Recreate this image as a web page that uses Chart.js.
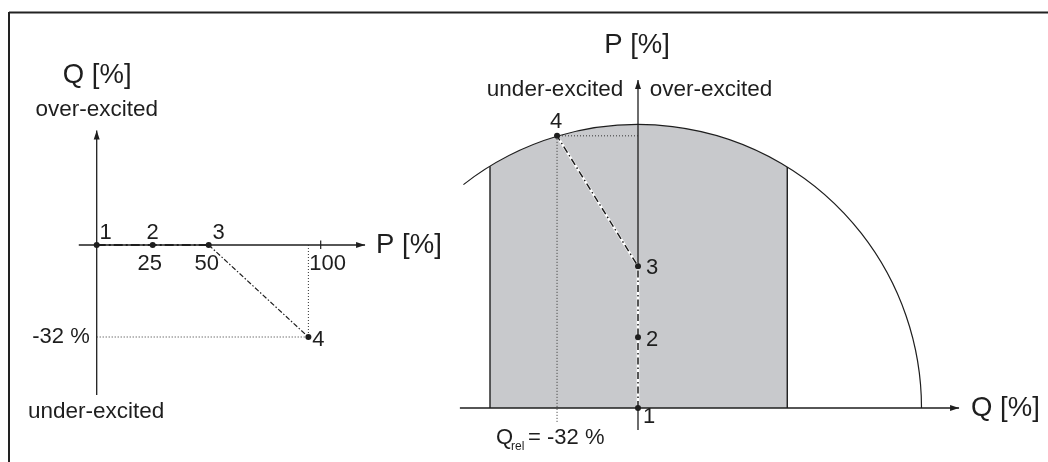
<!DOCTYPE html>
<html><head><meta charset="utf-8">
<script src="https://cdn.jsdelivr.net/npm/chart.js@4.4.1/dist/chart.umd.min.js"></script>
<style>
html,body{margin:0;padding:0;background:#fff;}
#wrap{position:relative;width:1048px;height:462px;overflow:hidden;background:#fff;}
canvas{position:absolute;left:0;top:0;}
</style></head><body>
<div id="wrap"><canvas id="left" width="1048" height="462"></canvas><canvas id="right" width="1048" height="462"></canvas></div>
<script>
// ===== DATA: left diagram (P horizontal, Q vertical) =====
const leftPointIds = ['1', '2', '3', '4'];
const leftP = [0, 25, 50, 94.5];
const leftQ = [0, 0, 0, -32];
const leftTickValues = [25, 50, 100];
const leftTickLabels = ['25', '50', '100'];
const leftQMarkLabel = '-32 %';

// ===== DATA: right diagram (Q horizontal, P vertical) =====
const rightPointIds = ['1', '2', '3', '4'];
const rightQ = [0, 0, 0, -32];
const rightP = [0, 25, 50, 96];
const capabilityRadiusP = 100;      // limit circle, in P units
const shadedQRange = [-58.5, 59];   // shaded operating band (Q)
const arcStartQ = -69;              // where the drawn arc begins on the left
const qRelLabel = ['Q', 'rel', '= -32 %'];

// ===== LAYOUT (pixel origin and pixels per unit, axis extents in data units) =====
const W = 1048, H = 462;
const LL = {ox: 96.7, oy: 245, sx: 2.24, sy: 2.875, xAxis: [-8, 119.8], yAxis: [-52.2, 39.8]};
const RL = {ox: 638, oy: 408, sx: 2.53, sy: 2.835, xAxis: [-70.4, 126.9], yAxis: [-7.8, 115.7]};
const INK = '#1e1e1e';
const FONT = '"Liberation Sans", Arial, sans-serif';

function scalesFor(L) {
  return {
    x: {type: 'linear', display: false, min: -L.ox / L.sx, max: (W - L.ox) / L.sx},
    y: {type: 'linear', display: false, min: -(H - L.oy) / L.sy, max: L.oy / L.sy}
  };
}
// re-fit the scale ranges to the actual chart area so that origin / px-per-unit are exact
function fit(chart, L) {
  const a = chart.chartArea;
  const s = chart.options.scales;
  s.x.min = (a.left - L.ox) / L.sx; s.x.max = (a.right - L.ox) / L.sx;
  s.y.max = (L.oy - a.top) / L.sy; s.y.min = (L.oy - a.bottom) / L.sy;
  chart.update('none');
}
function pts(xs, ys, idx) { return idx.map(i => ({x: xs[i], y: ys[i]})); }
function P(chart, x, y) { return [chart.scales.x.getPixelForValue(x), chart.scales.y.getPixelForValue(y)]; }
function line(ctx, x1, y1, x2, y2, w, col) {
  ctx.save(); ctx.strokeStyle = col || INK; ctx.lineWidth = w || 1.3;
  ctx.beginPath(); ctx.moveTo(x1, y1); ctx.lineTo(x2, y2); ctx.stroke(); ctx.restore();
}
function arrow(ctx, x1, y1, x2, y2) {
  line(ctx, x1, y1, x2, y2, 1.3);
  const a = Math.atan2(y2 - y1, x2 - x1), len = 9, hw = 3;
  ctx.save(); ctx.fillStyle = INK; ctx.beginPath();
  ctx.moveTo(x2, y2);
  ctx.lineTo(x2 - len * Math.cos(a) + hw * Math.sin(a), y2 - len * Math.sin(a) - hw * Math.cos(a));
  ctx.lineTo(x2 - len * Math.cos(a) - hw * Math.sin(a), y2 - len * Math.sin(a) + hw * Math.cos(a));
  ctx.closePath(); ctx.fill(); ctx.restore();
}
function text(ctx, s, x, y, size, align) {
  ctx.save(); ctx.fillStyle = INK; ctx.font = size + 'px ' + FONT;
  ctx.textAlign = align || 'center'; ctx.textBaseline = 'middle';
  ctx.fillText(s, x, y); ctx.restore();
}

const baseOpts = (L) => ({
  responsive: false, maintainAspectRatio: false, animation: false, events: [],
  layout: {padding: 0},
  plugins: {legend: {display: false}, tooltip: {enabled: false}, title: {display: false}},
  scales: scalesFor(L)
});

// ===== LEFT CHART =====
const leftPlugin = {
  id: 'leftDeco',
  beforeDatasetsDraw(chart) {
    const ctx = chart.ctx;
    // frame
    line(ctx, 9, 12.5, W, 12.5, 2, '#222');
    line(ctx, 9, 12, 9, H, 2, '#222');
    // axes
    const [ax1, ay] = P(chart, LL.xAxis[0], 0);
    const [ax2] = P(chart, LL.xAxis[1], 0);
    arrow(ctx, ax1, ay, ax2, ay);
    const [qx, qy1] = P(chart, 0, LL.yAxis[0]);
    const [, qy2] = P(chart, 0, LL.yAxis[1]);
    arrow(ctx, qx, qy1, qx, qy2);
    // tick at 100
    const [tx] = P(chart, leftTickValues[2], 0);
    line(ctx, tx, ay - 4.5, tx, ay + 4, 1.2);
  },
  afterDatasetsDraw(chart) {
    const ctx = chart.ctx;
    const [ox, oy] = P(chart, 0, 0);
    const [, qTop] = P(chart, 0, LL.yAxis[1]);
    const [, qBot] = P(chart, 0, LL.yAxis[0]);
    const [pTip] = P(chart, LL.xAxis[1], 0);
    text(ctx, 'Q [%]', ox + 0.5, qTop - 55, 27.5);
    text(ctx, 'over-excited', ox, qTop - 21, 22.5);
    text(ctx, 'under-excited', ox - 0.5, qBot + 17, 22.5);
    text(ctx, 'P [%]', pTip + 11, oy, 27.5, 'left');
    const dxs = [-3, -2, 7];
    leftTickValues.forEach((v, i) => {
      const [x] = P(chart, v, 0);
      text(ctx, leftTickLabels[i], x + dxs[i], oy + 18.5, 22);
    });
    const [, y4] = P(chart, 0, leftQ[3]);
    text(ctx, leftQMarkLabel, ox - 7, y4, 22, 'right');
    const offs = [[9, -12], [0, -12], [10, -12], [10, 3]];
    leftPointIds.forEach((id, i) => {
      const [x, y] = P(chart, leftP[i], leftQ[i]);
      text(ctx, id, x + offs[i][0], y + offs[i][1], 22);
    });
  }
};

const leftChart = new Chart(document.getElementById('left'), {
  type: 'scatter',
  data: {datasets: [
    {data: pts(leftP, leftQ, [0, 1, 2, 3]), showLine: false, pointRadius: 3, pointBackgroundColor: INK, pointBorderWidth: 0, order: 0},
    {data: pts(leftP, leftQ, [0, 1, 2]), showLine: true, pointRadius: 0, borderColor: INK, borderWidth: 1.8, borderDash: [9, 3, 2, 3], order: 1},
    {data: pts(leftP, leftQ, [2, 3]), showLine: true, pointRadius: 0, borderColor: INK, borderWidth: 1.2, borderDash: [5, 2, 1.5, 2], order: 2},
    {data: [{x: leftP[3], y: leftQ[0]}, {x: leftP[3], y: leftQ[3]}], showLine: true, pointRadius: 0, borderColor: '#333', borderWidth: 1, borderDash: [1, 2], order: 3},
    {data: [{x: leftP[0], y: leftQ[3]}, {x: leftP[3], y: leftQ[3]}], showLine: true, pointRadius: 0, borderColor: '#333', borderWidth: 1, borderDash: [1, 2], order: 4}
  ]},
  options: baseOpts(LL),
  plugins: [leftPlugin]
});
fit(leftChart, LL);

// ===== RIGHT CHART =====
const rightPlugin = {
  id: 'rightDeco',
  beforeDatasetsDraw(chart) {
    const ctx = chart.ctx;
    const [cx, cy] = P(chart, 0, 0);
    const r = cy - P(chart, 0, capabilityRadiusP)[1];
    const yAt = (x) => cy - Math.sqrt(Math.max(0, r * r - (x - cx) * (x - cx)));
    const ang = (x) => Math.atan2(yAt(x) - cy, x - cx);
    const xL = P(chart, shadedQRange[0], 0)[0];
    const xR = P(chart, shadedQRange[1], 0)[0];
    // shaded band under the arc
    ctx.save();
    ctx.fillStyle = '#c8c9cc';
    ctx.beginPath();
    ctx.moveTo(xL, cy); ctx.lineTo(xL, yAt(xL));
    ctx.arc(cx, cy, r, ang(xL), ang(xR));
    ctx.lineTo(xR, cy); ctx.closePath(); ctx.fill();
    ctx.restore();
    line(ctx, xL, cy, xL, yAt(xL), 1.4);
    line(ctx, xR, cy, xR, yAt(xR), 1.4);
    // limit arc
    const xs = P(chart, arcStartQ, 0)[0];
    ctx.save(); ctx.strokeStyle = INK; ctx.lineWidth = 1.2;
    ctx.beginPath(); ctx.arc(cx, cy, r, ang(xs), 0); ctx.stroke(); ctx.restore();
    // axes
    const [a1] = P(chart, RL.xAxis[0], 0);
    const [a2] = P(chart, RL.xAxis[1], 0);
    arrow(ctx, a1, cy, a2, cy);
    const [, b1] = P(chart, 0, RL.yAxis[0]);
    const [, b2] = P(chart, 0, RL.yAxis[1]);
    arrow(ctx, cx, b1, cx, b2);
  },
  afterDatasetsDraw(chart) {
    const ctx = chart.ctx;
    const [cx, cy] = P(chart, 0, 0);
    const [, pTop] = P(chart, 0, RL.yAxis[1]);
    const [qTip] = P(chart, RL.xAxis[1], 0);
    text(ctx, 'P [%]', cx - 1, pTop - 35, 27.5);
    text(ctx, 'under-excited', cx - 83, pTop + 10, 22.5);
    text(ctx, 'over-excited', cx + 73, pTop + 10, 22.5);
    text(ctx, 'Q [%]', qTip + 12, cy, 27.5, 'left');
    const offs = [[11, 9], [14, 2.5], [14, 1.5], [-1, -14]];
    rightPointIds.forEach((id, i) => {
      const [x, y] = P(chart, rightQ[i], rightP[i]);
      text(ctx, id, x + offs[i][0], y + offs[i][1], 22);
    });
    const [x4] = P(chart, rightQ[3], 0);
    text(ctx, qRelLabel[0], x4 - 61, cy + 30, 22, 'left');
    text(ctx, qRelLabel[1], x4 - 46, cy + 39, 12, 'left');
    text(ctx, qRelLabel[2], x4 - 29, cy + 30, 22, 'left');
  }
};

const guideR = {showLine: true, pointRadius: 0, borderColor: '#333', borderWidth: 1, borderDash: [1, 2]};
const rightChart = new Chart(document.getElementById('right'), {
  type: 'scatter',
  data: {datasets: [
    {data: pts(rightQ, rightP, [0, 1, 2, 3]), showLine: false, pointRadius: 3, pointBackgroundColor: INK, pointBorderWidth: 0, order: 0},
    {data: pts(rightQ, rightP, [0, 1, 2, 3]), showLine: true, pointRadius: 0, borderColor: INK, borderWidth: 1.5, borderDash: [7, 3, 1.5, 3], order: 1},
    {data: pts(rightQ, rightP, [0, 1, 2, 3]), showLine: true, pointRadius: 0, borderColor: '#ffffff', borderWidth: 2.6, order: 5},
    Object.assign({data: [{x: rightQ[0], y: rightP[3]}, {x: rightQ[3], y: rightP[3]}], order: 3}, guideR),
    Object.assign({data: [{x: rightQ[3], y: rightP[3]}, {x: rightQ[3], y: -5.3}], order: 4}, guideR)
  ]},
  options: baseOpts(RL),
  plugins: [rightPlugin]
});
fit(rightChart, RL);
</script>
</body></html>
